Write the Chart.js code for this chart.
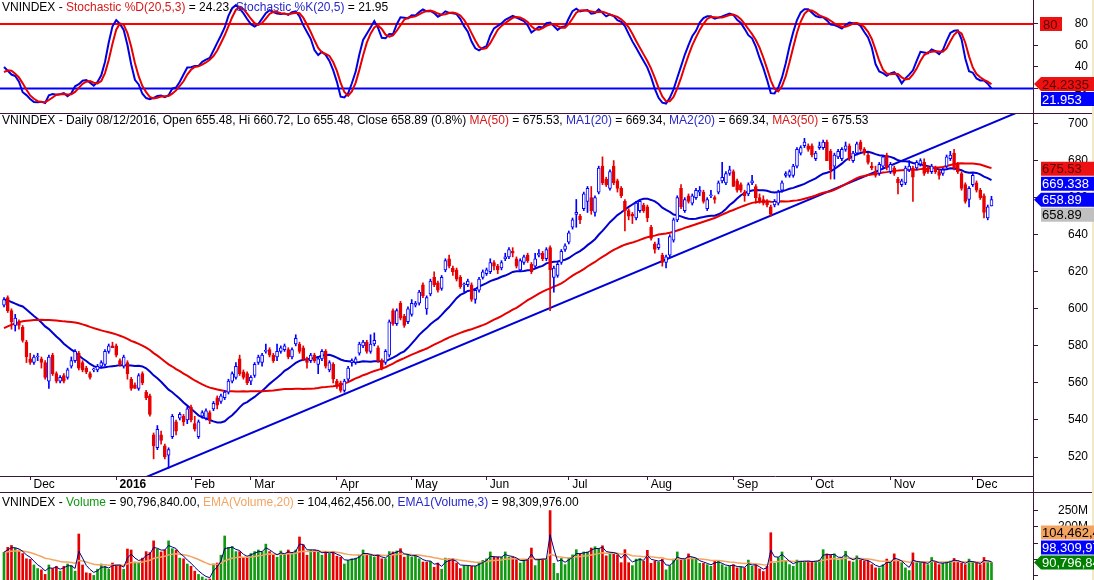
<!DOCTYPE html>
<html>
<head>
<meta charset="utf-8">
<script src="https://cdn.jsdelivr.net/npm/chart.js@4.4.1/dist/chart.umd.min.js"></script>
<style>
  html, body { margin: 0; padding: 0; background: #fff; overflow: hidden; }
  #wrap { position: relative; width: 1094px; height: 580px; overflow: hidden; background: #fff; }
  .panel { position: absolute; left: 0; width: 1094px; }
</style>
</head>
<body>
<div id="wrap">
  <div class="panel" style="top:0;height:113px"><canvas id="stochChart"></canvas></div>
  <div class="panel" style="top:113px;height:379px"><canvas id="priceChart"></canvas></div>
  <div class="panel" style="top:492px;height:100px"><canvas id="volChart"></canvas></div>
</div>
<script>
// Daily VNINDEX, 20 Nov 2015 .. 08 Dec 2016 (index 0 = first bar on screen)
const opens = [
  602,606,599,591,593,590,582,573,571,574, 573,571,561,575,565,561,564,563,569,572,
  576,571,568,565,567,567,569,570,577,580, 580,572,569,571,562,559,557,565,555,553,
  532,525,532,526,521,531,539,541,542,540, 547,538,531,542,541,544,546,552,550,552,
  555,561,563,573,566,565,561,564,571,571, 577,578,575,574,577,578,578,574,581,581,
  579,573,572,575,570,573,577,567,570,561, 560,556,562,571,571,576,580,582,577,581,
  579,572,571,575,599,592,603,596,593,597, 602,603,613,600,608,617,614,611,621,627,
  622,621,617,613,613,613,605,610,617,619, 620,625,623,622,627,628,631,627,621,625,
  629,624,623,629,630,627,633,617,618,625, 632,636,644,651,650,654,658,660,652,663,
  677,670,665,677,669,665,658,653,651,649, 653,656,655,644,635,633,629,625,629,637,
  648,665,653,661,657,660,663,663,654,661, 660,663,669,668,673,674,669,667,663,662,
  668,666,660,659,658,655,656,657,664,672, 672,672,677,684,688,688,688,681,687,687,
  690,685,677,682,681,686,688,680,684,690, 686,683,677,674,673,677,683,674,676,670,
  667,668,675,676,676,678,679,676,674,676, 674,673,677,681,684,678,673,667,659,667,
  668,664,661,649,655.48
];
const highs = [
  606,607,600,597,594,591,583,576,575,576, 574,572,575,576,566,564,565,568,574,578,
  577,572,569,566,568,570,572,578,581,582, 581,573,575,572,563,560,565,566,556,554,
  533,537,534,527,525,543,540,544,543,547, 548,542,540,545,546,545,550,553,554,556,
  562,566,571,575,567,566,564,571,575,576, 581,579,576,581,580,581,579,579,586,582,
  580,574,576,576,574,578,578,572,571,562, 561,562,569,573,574,582,583,583,586,587,
  580,573,578,594,600,600,604,597,601,605, 604,610,614,607,616,620,615,618,627,629,
  623,622,618,614,616,614,611,617,621,622, 627,626,624,626,630,633,633,628,627,629,
  630,625,630,632,631,633,634,623,625,632, 635,642,649,659,651,663,666,666,661,677,
  682,671,675,680,670,666,659,654,652,658, 659,657,656,645,636,638,630,629,640,649,
  661,667,660,662,662,665,666,664,660,664, 661,669,679,674,677,675,670,668,664,668,
  672,667,662,661,659,656,659,664,669,674, 675,678,687,688,692,689,689,685,690,691,
  691,686,684,686,687,690,689,685,690,691, 687,684,679,677,679,683,684,679,677,671,
  670,677,680,677,680,681,681,677,678,677, 675,676,683,685,686,679,674,668,666,673,
  669,665,662,656,660.72
];
const lows = [
  601,598,589,588,589,582,571,570,570,572, 568,562,557,564,560,560,560,562,568,571,
  567,566,565,562,566,566,568,569,576,579, 574,569,568,562,556,557,556,559,551,542,
  519,524,527,519,514,530,532,540,537,538, 539,534,530,541,540,538,545,546,549,551,
  554,560,562,564,562,559,559,563,570,569, 576,574,571,572,576,577,573,573,580,576,
  572,568,571,571,565,572,568,566,560,557, 555,555,561,569,570,575,579,576,576,580,
  571,567,570,574,591,591,594,590,592,596, 601,602,606,597,607,612,609,610,620,622,
  618,615,611,609,612,604,603,609,616,618, 619,621,619,621,626,627,628,622,620,624,
  625,619,622,628,626,626,599,609,617,624, 631,635,643,644,646,653,652,651,650,662,
  667,666,664,667,663,660,642,648,646,648, 652,652,647,637,630,632,623,622,628,636,
  647,654,652,657,656,659,661,657,653,660, 657,662,668,667,672,666,663,663,658,661,
  667,657,657,656,655,650,655,656,663,671, 671,671,676,683,687,685,682,680,686,686,
  680,670,670,681,680,685,680,679,683,685, 683,678,675,671,672,676,675,673,672,662,
  666,667,674,658,675,677,672,673,673,673, 670,672,676,680,675,673,664,657,655,666,
  663,659,649,648,655.48
];
const closes = [
  605,599,593,595,591,583,574,571,574,574, 571,563,574,565,561,563,561,567,572,577,
  568,567,566,563,567,569,571,577,580,579, 575,570,574,565,557,557,564,560,552,543,
  526,535,529,520,524,542,534,543,539,546, 540,535,539,544,545,540,549,548,553,555,
  561,565,569,565,563,560,563,570,574,575, 577,575,572,577,579,580,574,578,584,577,
  573,571,575,572,573,577,569,571,562,558, 556,561,568,572,573,581,582,577,581,583,
  572,568,577,593,592,599,595,591,600,603, 603,609,607,606,615,613,610,617,626,623,
  620,616,612,613,615,605,610,616,620,621, 625,623,621,625,628,632,630,623,626,628,
  626,620,627,630,627,632,621,622,624,631, 634,641,648,652,648,662,665,653,660,676,
  668,667,674,668,665,661,653,650,650,657, 658,653,649,638,632,635,625,628,639,648,
  660,655,659,658,661,664,664,658,659,661, 659,668,671,673,675,666,664,664,661,667,
  669,660,658,657,656,651,658,663,668,673, 674,677,686,687,690,686,683,684,688,690,
  680,675,683,685,686,688,681,684,689,686, 684,679,676,672,678,682,676,678,673,668,
  669,676,677,671,679,680,673,674,677,674, 672,675,682,683,676,674,665,658,665,672,
  664,660,652,655,658.89
];
// volume in millions of shares
const volumes = [
  122,137,143,135,129,118,102,100,83,72, 68,54,83,72,79,64,79,86,81,64,
  178,83,59,57,51,70,86,79,70,89, 83,83,70,132,129,92,89,104,124,121,
  157,132,123,129,157,133,129,104,102,86, 79,64,54,46,40,40,86,89,113,172,
  137,140,124,124,104,104,118,124,129,124, 147,124,113,107,126,115,129,118,129,169,
  145,113,129,129,126,113,124,118,124,110, 107,86,97,102,104,113,129,118,113,107,
  115,102,102,124,123,126,133,107,113,107, 113,102,92,92,94,76,89,70,104,102,
  102,89,72,81,81,79,79,89,97,102, 123,107,107,107,123,107,107,100,89,97,
  100,135,81,100,102,102,250,88,57,103, 84,106,114,130,117,123,123,135,139,133,
  142,111,120,120,114,90,130,90,81,101, 103,95,128,88,95,92,101,68,81,101,
  123,98,101,117,106,101,88,88,84,79, 95,95,84,77,79,84,74,77,74,98,
  79,84,71,63,79,182,88,106,123,95, 84,79,98,95,95,95,92,95,98,130,
  117,114,117,98,106,125,95,92,111,98, 95,95,84,74,74,84,101,90,117,98,
  90,74,66,120,90,90,90,84,106,92, 84,88,92,95,103,95,88,84,101,92,
  88,84,106,95,90.8
];
// closes before the first visible bar (Sep-Nov 2015), needed by MA(50) and the stochastic
const earlierCloses = [
  550,553,556,557,558, 560,563,566,568,570,569,571,572,570,572,574,575,
  582,588,592,595,597,599,600,602,601,603,604,606,605,
  606,613,612,609,596,606,607,609,606,609,
  605,603,604,601,600,602,601,603,603
];
const monthLabels = ['Dec','2016','Feb','Mar','Apr','May','Jun','Jul','Aug','Sep','Oct','Nov','Dec'];
const monthStarts = [7,30,50,66,89,109,129,151,172,195,216,237,259];
const priceTicks = [520,540,560,580,600,620,640,660,680,700];
const stochTicks = [20,40,60,80];
const stochLevels = [80,20];
const volTicks = [50,100,150,200,250];
// trendline anchors: [bar index], [price]
const trendX = [38, 272];
const trendY = [509.2, 706.9];

const FRAME = '#3c143c';
const RED = '#e80000', BLUE = '#0000e0', GREEN = '#119911', PEACH = '#f4a460', NAVY = '#000080';
const X_MIN = -1.07, X_MAX = 275.1;
const FONT = '"Liberation Sans", Arial, sans-serif';
Chart.defaults.font.family = FONT;
Chart.defaults.font.size = 12;

// indicators
const H = earlierCloses.length;
const allC = earlierCloses.concat(closes);
const allH = earlierCloses.concat(highs);
const allL = earlierCloses.concat(lows);
function sma(arr, n, j) {
  let s = 0;
  for (let k = j - n + 1; k <= j; k++) s += arr[k];
  return s / n;
}
const ma20 = closes.map((c, i) => sma(allC, 20, i + H));
const ma50 = closes.map((c, i) => sma(allC, 50, i + H));

const num = [], den = [];
for (let j = 19; j < allC.length; j++) {
  const hh = Math.max(...allH.slice(j - 19, j + 1));
  const ll = Math.min(...allL.slice(j - 19, j + 1));
  num[j] = allC[j] - ll;
  den[j] = hh - ll;
}
const kAll = [];
for (let j = 23; j < allC.length; j++) {
  let n = 0, d = 0;
  for (let k = j - 4; k <= j; k++) { n += num[k]; d += den[k]; }
  kAll[j] = d ? 100 * n / d : 50;
}
const stochK = closes.map((c, i) => kAll[i + H]);
const stochD = closes.map((c, i) => (kAll[i + H] + kAll[i + H - 1] + kAll[i + H - 2]) / 3);

function ema(arr, n) {
  const a = 2 / (n + 1), out = [];
  arr.forEach((v, i) => out.push(i ? a * v + (1 - a) * out[i - 1] : v));
  return out;
}
const vEma20 = ema(volumes, 20);
const vEma3 = ema(volumes, 3);

const pts = arr => arr.map((v, i) => ({ x: i, y: v }));
const upBar = closes.map((c, i) => c >= opens[i]);
const volUp = closes.map((c, i) => i === 0 ? c >= earlierCloses[H - 1] : c >= closes[i - 1]);

// axes
function xAxis(show) {
  const base = { type: 'linear', min: X_MIN, max: X_MAX, offset: false, display: show };
  if (!show) return base;
  return Object.assign(base, {
    afterBuildTicks: s => { s.ticks = monthStarts.map(v => ({ value: v })); },
    afterFit: s => { s.height = 16; s.paddingLeft = 0; s.paddingRight = 0; },
    ticks: {
      autoSkip: false, maxRotation: 0, minRotation: 0, align: 'start', padding: -3, color: '#000',
      callback: (v, i) => ' ' + monthLabels[i],
      font: c => ({ family: FONT, size: 12, weight: c.tick && c.tick.label === ' 2016' ? 'bold' : 'normal' })
    },
    grid: { offset: false, drawOnChartArea: false, drawTicks: true, tickLength: 4, color: FRAME },
    border: { display: true, color: FRAME, width: 1 }
  });
}
function yAxis(min, max, tickVals, fmt) {
  return {
    type: 'linear', position: 'right', min: min, max: max,
    afterBuildTicks: s => { s.ticks = tickVals.map(v => ({ value: v })); },
    afterFit: s => { s.width = 55; s.paddingTop = 0; s.paddingBottom = 0; },
    ticks: { crossAlign: 'far', padding: 0, color: '#000', font: { size: 12 }, callback: fmt || (v => v) },
    grid: { offset: false, drawOnChartArea: false, drawTicks: true, tickLength: 5, color: FRAME },
    border: { display: true, color: FRAME }
  };
}

// titles, value tags and frame
function drawSegments(ctx, x, y, segs) {
  ctx.font = '12px ' + FONT;
  ctx.textBaseline = 'alphabetic';
  ctx.textAlign = 'left';
  segs.forEach(([t, c]) => {
    ctx.fillStyle = c;
    ctx.fillText(t, x, y);
    x += ctx.measureText(t).width;
  });
}
const TAG_STEP = 15;
function placeTags(tags) {
  const placed = [];
  tags.forEach(t => {
    let y = t.want;
    for (let pass = 0; pass < 6; pass++) {
      let moved = false;
      placed.forEach(p => {
        if (Math.abs(y - p.y) < TAG_STEP) {
          y = t.want >= p.want ? p.y + TAG_STEP : p.y - TAG_STEP;
          moved = true;
        }
      });
      if (!moved) break;
    }
    t.y = y;
    placed.push(t);
  });
}
function drawTag(ctx, t) {
  const h = 14, x0 = 1041, x1 = 1094;
  ctx.fillStyle = t.fill;
  ctx.beginPath();
  if (t.arrow) {
    ctx.moveTo(1034, t.y);
    ctx.lineTo(x0, t.y - h / 2);
    ctx.lineTo(x1, t.y - h / 2);
    ctx.lineTo(x1, t.y + h / 2);
    ctx.lineTo(x0, t.y + h / 2);
    ctx.closePath();
  } else {
    ctx.rect(x0, t.y - h / 2, x1 - x0, h);
  }
  ctx.fill();
  ctx.fillStyle = t.color;
  ctx.font = '13px ' + FONT;
  ctx.textAlign = 'left';
  ctx.textBaseline = 'middle';
  ctx.fillText(t.text, x0 + 1, t.y + 1);
}
function panelPlugin(cfg) {
  return {
    id: 'panel',
    afterDraw(chart) {
      const { ctx, chartArea, width, height } = chart;
      const ys = chart.scales.y;
      ctx.save();
      ctx.strokeStyle = FRAME;
      ctx.lineWidth = 1;
      ctx.beginPath();
      const rx = Math.round(chartArea.right) + 0.5;
      ctx.moveTo(rx, 0); ctx.lineTo(rx, height);
      if (cfg.topLine) { ctx.moveTo(0, 0.5); ctx.lineTo(width, 0.5); }
      ctx.stroke();
      ctx.fillStyle = '#f1e9c6';
      ctx.fillRect(width - 2, 0, 2, height);
      drawSegments(ctx, 2, cfg.titleY, cfg.title);
      if (cfg.box) {
        const y = ys.getPixelForValue(cfg.box.value);
        ctx.fillStyle = cfg.box.fill;
        ctx.fillRect(1040, y - 7, 22, 14);
        ctx.fillStyle = cfg.box.color;
        ctx.font = '13px ' + FONT;
        ctx.textBaseline = 'middle';
        ctx.textAlign = 'left';
        ctx.fillText(cfg.box.text, 1043, y + 1);
      }
      const tags = cfg.tags.map(t => Object.assign({ want: ys.getPixelForValue(t.value) }, t));
      placeTags(tags);
      tags.forEach(t => drawTag(ctx, t));
      ctx.restore();
    }
  };
}
const baseOpts = {
  animation: false, responsive: true, maintainAspectRatio: false, events: [],
  layout: { autoPadding: false, padding: { left: 0, right: 6, top: 0, bottom: 0 } },
  plugins: { legend: { display: false }, tooltip: { enabled: false } }
};

// Stochastic panel
new Chart(document.getElementById('stochChart'), {
  type: 'line',
  data: {
    datasets: [
      { data: [{ x: X_MIN, y: stochLevels[0] }, { x: X_MAX, y: stochLevels[0] }], borderColor: '#ff0000', borderWidth: 2, pointRadius: 0, order: 3 },
      { data: [{ x: X_MIN, y: stochLevels[1] }, { x: X_MAX, y: stochLevels[1] }], borderColor: '#0000ff', borderWidth: 2, pointRadius: 0, order: 3 },
      { data: pts(stochK), borderColor: BLUE, borderWidth: 2, pointRadius: 0, tension: 0, order: 2 },
      { data: pts(stochD), borderColor: RED, borderWidth: 2, pointRadius: 0, tension: 0, order: 1 }
    ]
  },
  options: Object.assign({}, baseOpts, {
    scales: { x: xAxis(false), y: yAxis(-2.8, 102.3, stochTicks) }
  }),
  plugins: [panelPlugin({
    topLine: false, titleY: 11,
    title: [['VNINDEX - ', '#000'], ['Stochastic %D(20,5,3)', '#d81818'], [' = 24.23, ', '#000'],
            ['Stochastic %K(20,5)', '#2828c8'], [' = 21.95', '#000']],
    box: { value: 80, text: '80', fill: '#ee1111', color: '#5a0000' },
    tags: [
      { value: 24.2335, text: '24.2335', fill: '#ee1111', color: '#5a0000', arrow: true },
      { value: 21.953, text: '21.953', fill: '#0000ff', color: '#fff' }
    ]
  })]
});

// Price panel
new Chart(document.getElementById('priceChart'), {
  type: 'bar',
  data: {
    datasets: [
      { type: 'line', data: pts(ma50), borderColor: RED, borderWidth: 2, pointRadius: 0, tension: 0, order: 3 },
      { type: 'line', data: pts(ma20), borderColor: '#0000d0', borderWidth: 2, pointRadius: 0, tension: 0, order: 3 },
      { type: 'line', data: trendX.map((x, i) => ({ x: x, y: trendY[i] })), borderColor: '#0000d8', borderWidth: 2, pointRadius: 0, order: 3 },
      { type: 'bar', data: closes.map((c, i) => ({ x: i, y: [lows[i], highs[i]] })),
        backgroundColor: upBar.map(u => u ? '#0000ff' : RED), borderWidth: 0,
        barThickness: 1, grouped: false, order: 2 },
      { type: 'bar', data: closes.map((c, i) => ({ x: i, y: [opens[i], c] })),
        backgroundColor: upBar.map(u => u ? '#ffffff' : RED), borderColor: upBar.map(u => u ? '#0000ff' : RED),
        borderWidth: 1, borderSkipped: false, minBarLength: 1, barThickness: 3, grouped: false, order: 1 }
    ]
  },
  options: Object.assign({}, baseOpts, {
    scales: { x: xAxis(true), y: yAxis(509.77, 705.67, priceTicks) }
  }),
  plugins: [panelPlugin({
    topLine: true, titleY: 11,
    title: [['VNINDEX - Daily 08/12/2016, Open 655.48, Hi 660.72, Lo 655.48, Close 658.89 (0.8%) ', '#000'],
            ['MA(50)', '#d81818'], [' = 675.53, ', '#000'], ['MA1(20)', '#2828c8'], [' = 669.34, ', '#000'],
            ['MA2(20)', '#2828c8'], [' = 669.34, ', '#000'], ['MA3(50)', '#d81818'], [' = 675.53', '#000']],
    tags: [
      { value: 658.89, text: '658.89', fill: '#0000ff', color: '#fff', arrow: true },
      { value: 658.89, text: '658.89', fill: '#c0c0c0', color: '#000' },
      { value: 675.53, text: '675.53', fill: '#ee1111', color: '#5a0000' },
      { value: 669.338, text: '669.338', fill: '#0000ff', color: '#fff' }
    ]
  })]
});

// Volume panel
new Chart(document.getElementById('volChart'), {
  type: 'bar',
  data: {
    datasets: [
      { type: 'bar', data: pts(volumes), backgroundColor: volUp.map(u => u ? GREEN : RED),
        barThickness: 2, grouped: false, order: 3 },
      { type: 'line', data: pts(vEma20), borderColor: PEACH, borderWidth: 1.5, pointRadius: 0, tension: 0, order: 2 },
      { type: 'line', data: pts(vEma3), borderColor: NAVY, borderWidth: 1, pointRadius: 0, tension: 0, order: 1 }
    ]
  },
  options: Object.assign({}, baseOpts, {
    scales: { x: xAxis(false), y: yAxis(0, 307, volTicks, v => v >= 200 ? v + 'M' : '') }
  }),
  plugins: [panelPlugin({
    topLine: true, titleY: 14,
    title: [['VNINDEX - ', '#000'], ['Volume', '#119911'], [' = 90,796,840.00, ', '#000'],
            ['EMA(Volume,20)', PEACH], [' = 104,462,456.00, ', '#000'],
            ['EMA1(Volume,3)', '#2828c8'], [' = 98,309,976.00', '#000']],
    tags: [
      { value: 90.8, text: '90,796,840', fill: '#008000', color: '#fff', arrow: true },
      { value: 98.31, text: '98,309,976', fill: '#0000ff', color: '#fff' },
      { value: 104.46, text: '104,462,456', fill: PEACH, color: '#000' }
    ]
  })]
});
</script>
</body>
</html>
